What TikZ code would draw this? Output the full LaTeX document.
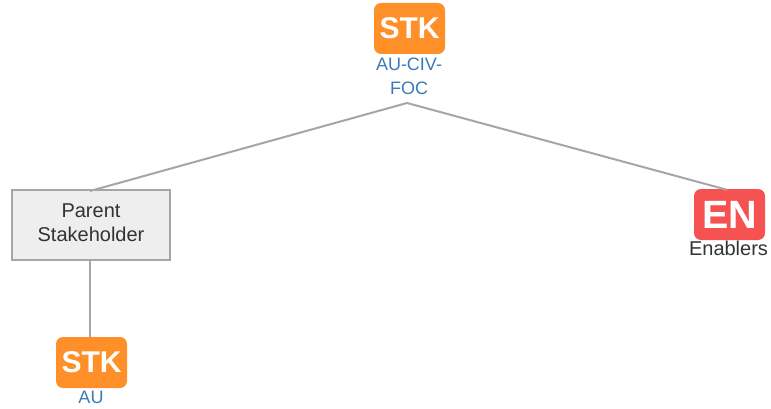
\documentclass[tikz,border=0pt]{standalone}
\usepackage{fontspec}
\setmainfont{Liberation Sans}
\definecolor{stkorange}{HTML}{FF9029}
\definecolor{enred}{HTML}{F65252}
\definecolor{lblblue}{HTML}{3B7AB8}
\definecolor{linegray}{HTML}{A6A6A6}
\definecolor{boxfill}{HTML}{EEEEEE}
\definecolor{txtdark}{HTML}{333333}
\tikzset{
  badge/.style={rounded corners=7pt,minimum width=71pt,minimum height=51pt,inner sep=0pt,text=white,font=\bfseries},
  stkbadge/.style={badge,fill=stkorange,font=\fontsize{30}{30}\bfseries\selectfont},
  enbadge/.style={badge,fill=enred,font=\fontsize{39.5}{40}\bfseries\selectfont},
  lbl/.style={inner sep=0pt,align=center,font=\fontsize{18}{24}\selectfont},
  conn/.style={draw=linegray,line width=2pt},
  parentbox/.style={draw=linegray,line width=2pt,fill=boxfill,minimum width=158pt,minimum height=70pt,inner sep=0pt},
  parenttext/.style={inner sep=0pt,text=txtdark,align=center,font=\fontsize{20}{24}\selectfont}
}
\begin{document}
\begin{tikzpicture}[x=1pt,y=-1pt]
\useasboundingbox (0,0) rectangle (771,409);
\node[stkbadge] (top) at (409.5,28.5) {STK};
\node[lbl,text=lblblue] (toplbl) at (409,76) {AU-CIV-\\FOC};
\coordinate (apex) at (407,103);
\node[parentbox] (parent) at (91,225) {};
\node[parenttext] (parentlbl) at (91,223) {Parent\\Stakeholder};
\node[enbadge] (en) at (729.5,214.5) {EN};
\node[lbl,text=txtdark,font=\fontsize{20}{24}\selectfont] (enlbl) at (728.5,248) {Enablers};
\node[stkbadge] (au) at (91.5,362.5) {STK};
\node[lbl,text=lblblue] (aulbl) at (91,397) {AU};
\draw[conn] (apex) -- ([xshift=-1pt,yshift=-2pt]parent.north);
\draw[conn] (apex) -- ([xshift=-2.5pt,yshift=-1pt]en.north);
\draw[conn] ([xshift=-1pt]parent.south) -- ([xshift=-1.5pt]au.north);
\end{tikzpicture}
\end{document}
